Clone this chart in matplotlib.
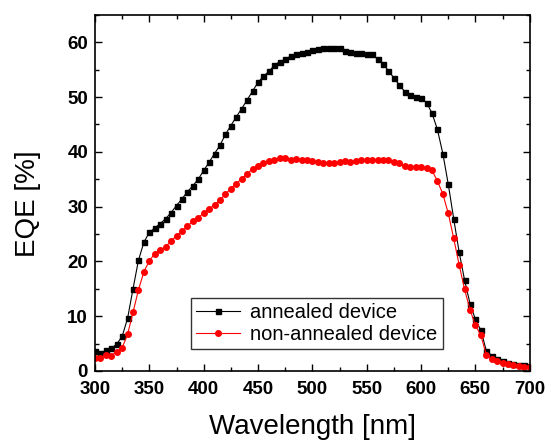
import matplotlib
matplotlib.use('Agg')
import matplotlib.pyplot as plt
from matplotlib.ticker import MultipleLocator
import numpy as np

plt.rcParams['font.family'] = ['Liberation Sans', 'DejaVu Sans']

# wavelength grid, 5 nm steps
wavelength = np.arange(300, 701, 5)

eqe_annealed = [
    3.6, 3.2, 3.8, 4.1, 4.9, 6.3, 9.6, 15.0, 20.2, 23.5,
    25.3, 26.1, 26.9, 27.8, 28.9, 30.2, 31.4, 32.7, 33.8, 35.0,
    36.6, 38.1, 39.7, 41.2, 43.2, 44.8, 46.4, 47.9, 49.5, 51.1,
    52.7, 53.8, 54.7, 55.8, 56.5, 56.9, 57.5, 57.8, 58.1, 58.3,
    58.6, 58.8, 59.0, 58.9, 58.9, 58.9, 58.5, 58.2, 58.1, 58.0,
    57.9, 57.8, 56.9, 56.1, 54.8, 53.5, 52.2, 51.0, 50.3, 50.1,
    49.8, 49.0, 47.1, 44.1, 39.7, 34.1, 27.8, 21.7, 16.6, 12.3,
    9.4, 7.4, 3.7, 2.8, 2.2, 1.8, 1.4, 1.2, 1.0, 1.0,
    0.9,
]

eqe_non_annealed = [
    2.4, 2.4, 2.9, 2.8, 3.5, 4.2, 6.7, 10.7, 14.8, 18.1,
    20.1, 21.4, 22.1, 22.7, 23.7, 24.7, 25.5, 26.4, 27.4, 28.0,
    28.8, 29.6, 30.3, 31.2, 32.3, 33.3, 34.2, 35.1, 36.0, 36.9,
    37.4, 38.0, 38.4, 38.5, 38.8, 38.8, 38.6, 38.7, 38.5, 38.5,
    38.4, 38.2, 38.0, 37.9, 38.0, 38.2, 38.4, 38.2, 38.3, 38.6,
    38.6, 38.6, 38.6, 38.6, 38.6, 38.2, 37.9, 37.5, 37.3, 37.3,
    37.2, 37.0, 36.6, 34.7, 32.3, 28.8, 24.2, 19.4, 14.9, 11.2,
    8.3, 6.5, 2.9, 2.2, 1.8, 1.5, 1.2, 1.0, 0.9, 0.8,
    0.7,
]

fig = plt.figure(figsize=(5.49, 4.41), dpi=100)
ax = fig.add_axes([0.173, 0.159, 0.792, 0.807])

ax.plot(wavelength, eqe_annealed, color='black', lw=0.8, marker='s',
        ms=3.6, label='annealed device')
ax.plot(wavelength, eqe_non_annealed, color='red', lw=0.8, marker='o',
        ms=4.0, label='non-annealed device')

ax.set_xlim(300, 700)
ax.set_ylim(0, 65)
ax.xaxis.set_major_locator(MultipleLocator(50))
ax.xaxis.set_minor_locator(MultipleLocator(25))
ax.yaxis.set_major_locator(MultipleLocator(10))
ax.yaxis.set_minor_locator(MultipleLocator(5))

ax.tick_params(which='both', direction='in', top=True, right=True, width=1.0)
ax.tick_params(which='major', length=5, labelsize=13.5)
ax.tick_params(axis='x', which='major', pad=7)
ax.tick_params(axis='y', which='major', pad=5)
ax.tick_params(which='minor', length=3)
for lab in ax.get_xticklabels() + ax.get_yticklabels():
    lab.set_fontweight('bold')
for sp in ax.spines.values():
    sp.set_linewidth(1.2)

ax.set_xlabel('Wavelength [nm]', fontsize=20)
ax.set_ylabel('EQE [%]', fontsize=20)
ax.xaxis.set_label_coords(0.5, -0.12)
ax.yaxis.set_label_coords(-0.125, 0.47)

leg = ax.legend(loc='lower left', bbox_to_anchor=(0.221, 0.061), borderaxespad=0,
                fontsize=14.5, frameon=True, fancybox=False, handlelength=2.2,
                handletextpad=0.5, borderpad=0.25, labelspacing=0.15)
leg.get_frame().set_edgecolor('black')
leg.get_frame().set_linewidth(1.0)

fig.savefig('out.png', dpi=100)
